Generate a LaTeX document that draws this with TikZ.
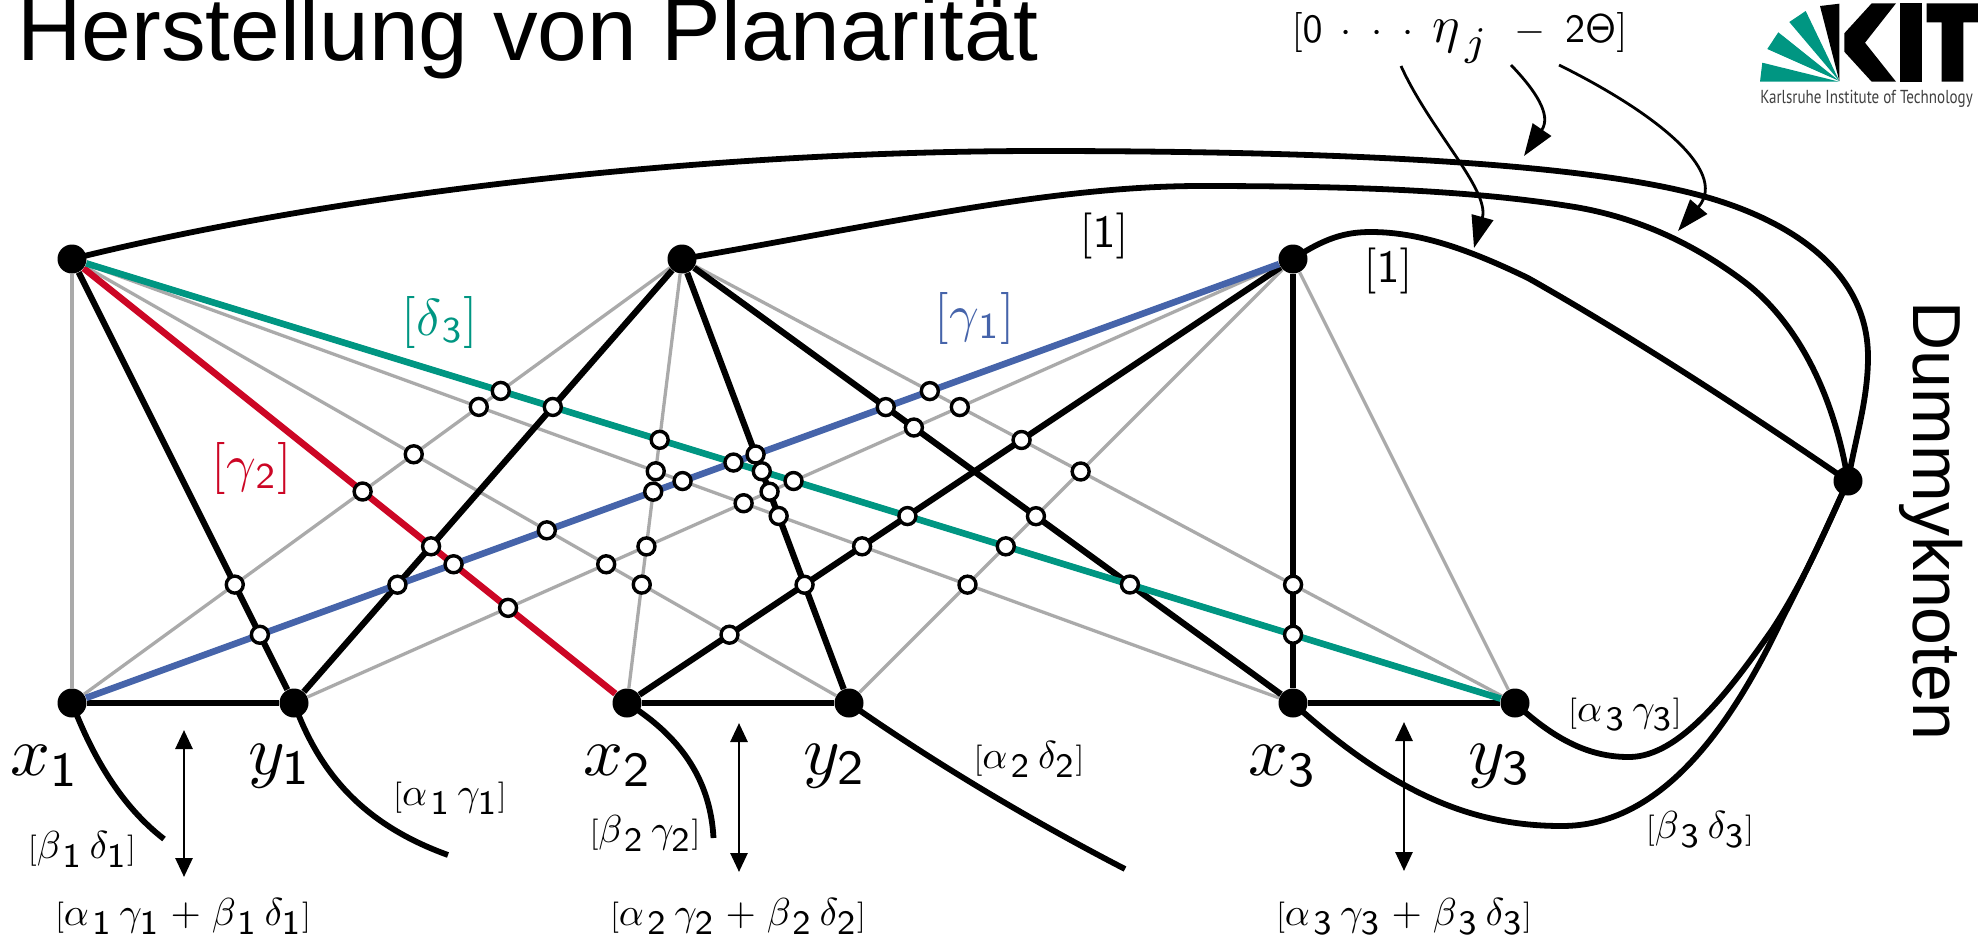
\documentclass[tikz,border=0pt]{standalone}
\usepackage[no-math]{fontspec}
\usepackage{graphicx}
\setmainfont{Liberation Sans}
\newfontfamily\logofont{PT Sans}
\usetikzlibrary{arrows.meta}
\definecolor{kitteal}{HTML}{009682}
\definecolor{kitblue}{HTML}{4664AA}
\definecolor{kitred}{HTML}{CC0625}
\definecolor{edgegray}{HTML}{AAAAAA}
\newcommand{\ii}[1]{\mathsf{#1}}
\newcommand{\bigsub}[1]{\scalebox{1.25}{$\scriptstyle\ii{#1}$}}
\newcommand{\subA}[1]{_{\mkern2mu\bigsub{#1}\mkern4mu}}
\newcommand{\subB}[1]{_{\bigsub{#1}}}
\newcommand{\subC}[1]{_{\mkern1mu\ii{#1}}}
\newcommand{\lbr}{\scalebox{.8}{$[$}}
\newcommand{\rbr}{\scalebox{.8}{$]$}}
\tikzset{
  vtx/.style={circle,fill=black,draw=none,inner sep=0pt,minimum size=14.5pt},
  crossing/.style={circle,fill=white,draw=black,line width=1.7pt,inner sep=0pt,minimum size=8.5pt},
  grayedge/.style={draw=edgegray,line width=1.65pt},
  blackedge/.style={draw=black,line width=3.1pt},
  curveedge/.style={draw=black,line width=2.9pt},
  rededge/.style={draw=kitred,line width=3.3pt},
  blueedge/.style={draw=kitblue,line width=3.3pt},
  tealedge/.style={draw=kitteal,line width=3.3pt},
  dblarrow/.style={draw=black,line width=1.4pt,{Stealth[length=9.5pt,width=8.5pt,inset=0pt]}-{Stealth[length=9.5pt,width=8.5pt,inset=0pt]}},
  bigarrow/.style={draw=black,line width=1.4pt,-{Stealth[length=16pt,width=11pt,inset=0pt]}},
  vname/.style={scale=3.5,inner sep=0pt},
  smalllab/.style={scale=1.95,inner sep=0pt},
  collab/.style={scale=2.6,inner sep=0pt},
  onelab/.style={scale=2.3,inner sep=0pt},
  toplab/.style={scale=2.0,inner sep=0pt},
  logoteal/.style={fill=kitteal,draw=none},
  logoblack/.style={fill=black,draw=none}
}
\begin{document}
\begin{tikzpicture}[x=0.5pt,y=-0.5pt]
\useasboundingbox (0,0) rectangle (1978,939);
% vertices
\node[vtx] (A) at (72,259) {};
\node[vtx] (B) at (682,259) {};
\node[vtx] (C) at (1293,259) {};
\node[vtx] (x1) at (72,703) {};
\node[vtx] (y1) at (294,703) {};
\node[vtx] (x2) at (627,703) {};
\node[vtx] (y2) at (849,703) {};
\node[vtx] (x3) at (1293,703) {};
\node[vtx] (y3) at (1515,703) {};
\node[vtx] (D) at (1848,481) {};
% gray edges
\foreach \p/\q in {A/x1,A/y2,A/x3,B/x1,B/x2,B/y3,C/y1,C/y2,C/y3}
  \draw[grayedge] (\p) -- (\q);
% black edges
\foreach \p/\q in {A/y1,B/y1,B/y2,B/x3,C/x2,C/x3,x1/y1,x2/y2,x3/y3}
  \draw[blackedge] (\p) -- (\q);
% coloured edges
\draw[rededge] (A) -- (x2);
\draw[tealedge] (A) -- (y3);
\draw[blueedge] (C) -- (x1);
% curves
\draw[curveedge] (A.center) .. controls (350,190) and (720,151) .. (1040,151)
  .. controls (1300,151) and (1560,160) .. (1691,193)
  .. controls (1780,215) and (1868,265) .. (1868,357)
  .. controls (1868,400) and (1855,440) .. (D.center);
\draw[curveedge] (B.center) .. controls (880,225) and (1050,186) .. (1200,186)
  .. controls (1350,186) and (1470,190) .. (1575,207)
  .. controls (1640,218) and (1695,245) .. (1742,280)
  .. controls (1800,323) and (1835,400) .. (D.center);
\draw[curveedge] (C.center) .. controls (1325,238) and (1345,232) .. (1371,232)
  .. controls (1420,232) and (1470,250) .. (1528,278)
  .. controls (1620,330) and (1730,400) .. (D.center);
\draw[curveedge] (x3.center) .. controls (1400,800) and (1480,826) .. (1562,826)
  .. controls (1660,826) and (1730,730) .. (1783,617)
  .. controls (1810,565) and (1830,520) .. (D.center);
\draw[curveedge] (y3.center) .. controls (1560,745) and (1595,757) .. (1629,757)
  .. controls (1680,757) and (1730,690) .. (1772,630)
  .. controls (1805,580) and (1830,520) .. (D.center);
\coordinate (e1) at (164,839);
\coordinate (e2) at (448,855);
\coordinate (e3) at (713.5,838);
\coordinate (e4) at (1125,869);
\draw[curveedge] (x1.center) .. controls (92,755) and (120,805) .. (e1);
\draw[curveedge] (y1.center) .. controls (320,775) and (365,825) .. (e2);
\draw[curveedge] (x2.center) .. controls (670,730) and (710,770) .. (e3);
\draw[curveedge] (y2.center) .. controls (930,760) and (1030,820) .. (e4);
% crossings
\foreach \pa/\pb/\pc/\pd [count=\i] in {
  A/y3/B/x1, B/x1/A/x3, A/y3/B/y1, B/x1/A/y2, A/x2/B/x1, A/x2/B/y1,
  A/y2/C/x1, A/x2/C/x1, C/x1/B/y1, A/y1/B/x1, A/y1/C/x1, A/x2/C/y1,
  A/y3/B/x2, A/x3/B/x2, C/x1/B/x2, A/x3/C/x1, A/y3/C/x1, B/y2/C/x1,
  A/y3/B/y2, B/y2/C/y1, A/y3/C/y1, C/y1/A/x3, B/y2/A/x3, A/y3/C/x2,
  C/x2/A/x3, B/y2/C/x2, A/x3/C/y2, C/x2/A/y2, A/y2/B/x2, A/y2/C/y1,
  B/x2/C/y1, A/y3/C/y2, B/x3/C/y2, C/x2/B/y3, B/x3/C/y1, B/x3/C/x1,
  C/x1/B/y3, B/y3/C/y1, B/y3/C/y2, C/x3/B/y3, A/y3/C/x3, A/y3/B/x3}
  \node[crossing] (c\i) at (intersection cs: first line={(\pa.center)--(\pb.center)}, second line={(\pc.center)--(\pd.center)}) {};
% double arrows
\coordinate (u1) at (184,730); \coordinate (v1) at (184,877);
\coordinate (u2) at (739,723); \coordinate (v2) at (739,872);
\coordinate (u3) at (1404,722); \coordinate (v3) at (1404,871);
\draw[dblarrow] (u1) -- (v1);
\draw[dblarrow] (u2) -- (v2);
\draw[dblarrow] (u3) -- (v3);
% top arrows
\coordinate (s1) at (1401,66); \coordinate (t1) at (1474,248);
\coordinate (s2) at (1511,65); \coordinate (t2) at (1524,156);
\coordinate (s3) at (1559,65); \coordinate (t3) at (1678,231);
\draw[bigarrow] (s1) .. controls (1430,130) and (1490,190) .. (t1);
\draw[bigarrow] (s2) .. controls (1535,90) and (1552,115) .. (t2);
\draw[bigarrow] (s3) .. controls (1650,110) and (1730,170) .. (t3);
% vertex names
\node[vname] (lx1) at (45,766) {$x_{\ii{1}}$};
\node[vname] (ly1) at (280,766) {$y_{\ii{1}}$};
\node[vname] (lx2) at (618,766) {$x_{\ii{2}}$};
\node[vname] (ly2) at (835,766) {$y_{\ii{2}}$};
\node[vname] (lx3) at (1283,766) {$x_{\ii{3}}$};
\node[vname] (ly3) at (1500,766) {$y_{\ii{3}}$};
% labels
\node[smalllab] (l1) at (82,849) {$\lbr\beta\subA{1}\delta\subB{1}\rbr$};
\node[smalllab] (l2) at (450,798) {$\lbr\alpha\subA{1}\gamma\subB{1}\rbr$};
\node[smalllab] (l3) at (645,833) {$\lbr\beta\subA{2}\gamma\subB{2}\rbr$};
\node[smalllab] (l4) at (1029,759) {$\lbr\alpha\subA{2}\delta\subB{2}\rbr$};
\node[smalllab] (l5) at (1625,714) {$\lbr\alpha\subA{3}\gamma\subB{3}\rbr$};
\node[smalllab] (l6) at (1700,829) {$\lbr\beta\subA{3}\delta\subB{3}\rbr$};
\node[smalllab] (s1l) at (183,916) {$\lbr\alpha\subA{1}\gamma\subB{1}\mkern1mu+\mkern1mu\beta\subA{1}\delta\subB{1}\rbr$};
\node[smalllab] (s2l) at (738,916) {$\lbr\alpha\subA{2}\gamma\subB{2}\mkern1mu+\mkern1mu\beta\subA{2}\delta\subB{2}\rbr$};
\node[smalllab] (s3l) at (1404,916) {$\lbr\alpha\subA{3}\gamma\subB{3}\mkern1mu+\mkern1mu\beta\subA{3}\delta\subB{3}\rbr$};
\node[collab,text=kitred] (cg2) at (252,468) {$[\gamma\subC{2}]$};
\node[collab,text=kitteal] (cd3) at (440,322) {$[\delta\subC{3}]$};
\node[collab,text=kitblue] (cg1) at (975,318) {$[\gamma\subC{1}]$};
\node[onelab] (one1) at (1104,236) {$[\ii{1}]$};
\node[onelab] (one2) at (1388,271) {$[\ii{1}]$};
\node[toplab,anchor=base] (eta) at (1459.5,42) {$[\ii{0}\hspace{4.5pt}{\cdot}\hspace{4.9pt}{\cdot}\hspace{4.9pt}{\cdot}\hspace{4.9pt}{\scalebox{1.3}{$\eta$}}_{\hspace{1pt}\scalebox{1.45}{$\scriptstyle j$}}\hspace{6.5pt}{-}\hspace{5pt}\ii{2\Theta}]$};
% title and side text
\node[anchor=base west,inner sep=0pt,font=\fontsize{44.6}{50}\selectfont] (title) at (17,60) {Herstellung von Planarität};
\node[anchor=base,rotate=-90,inner sep=0pt,font=\fontsize{34}{40}\selectfont] (dummy) at (1913,521) {Dummyknoten};
% logo
\fill[logoteal] (1839.3,81.7) -- (1760,81.7) -- (1762.3,62.7) -- cycle;
\fill[logoteal] (1839.3,81) -- (1767.3,49) -- (1778.3,32.3) -- cycle;
\fill[logoteal] (1839.3,81) -- (1789.3,22) -- (1805.7,11) -- cycle;
\fill[logoblack] (1839.3,81) -- (1820,6) -- (1839.3,3.7) -- cycle;
\fill[logoblack] (1844.3,33.3) -- (1871.7,3.3) -- (1896,3.3) -- (1865,42.7) -- (1896,81.7) -- (1871.7,81.7) -- (1844.3,51.7) -- cycle;
\fill[logoblack] (1900,3.3) rectangle (1922,81.7);
\fill[logoblack] (1926.7,3.3) -- (1978,3.3) -- (1978,22.3) -- (1963.3,22.3) -- (1963.3,81.7) -- (1941.7,81.7) -- (1941.7,22.3) -- (1926.7,22.3) -- cycle;
\node[anchor=base west,inner sep=0pt,xscale=0.8,text=black!75,font=\logofont\fontsize{9.4}{10}\selectfont] (kit) at (1760,103) {Karlsruhe Institute of Technology};
\end{tikzpicture}
\end{document}
